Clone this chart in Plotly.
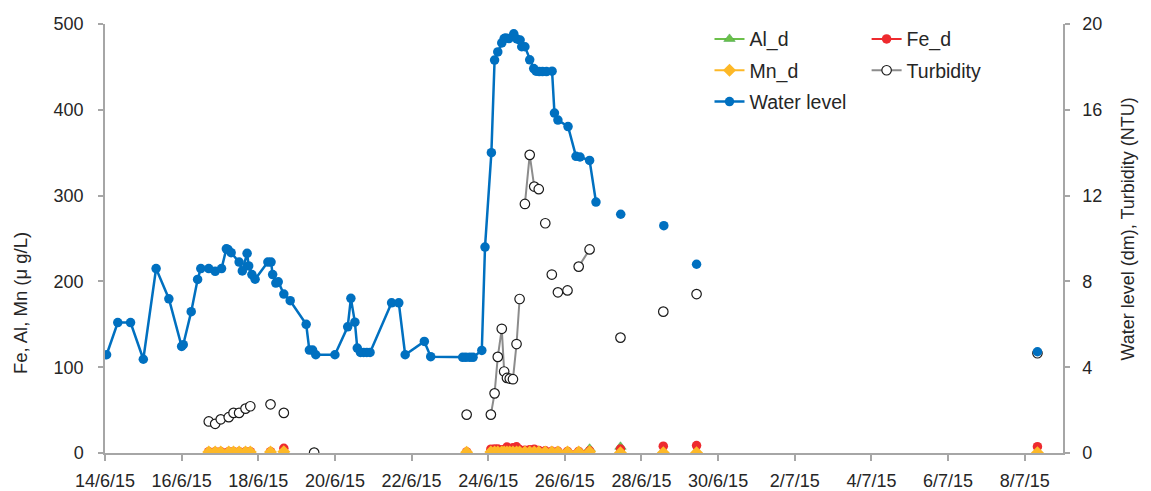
import plotly.graph_objects as go

# ---------------- data ----------------
# Water level (dm); consecutive rows with the same segment id are joined by a line
wl_dates = [
    "2015-06-14 01:00", "2015-06-14 08:00", "2015-06-14 16:00", "2015-06-15 00:00",
    "2015-06-15 08:00", "2015-06-15 16:00", "2015-06-16 00:00", "2015-06-16 01:00",
    "2015-06-16 06:00", "2015-06-16 10:00", "2015-06-16 12:00", "2015-06-16 17:00",
    "2015-06-16 21:00", "2015-06-17 01:00", "2015-06-17 04:00", "2015-06-17 05:00",
    "2015-06-17 07:00", "2015-06-17 12:00", "2015-06-17 14:00", "2015-06-17 17:00",
    "2015-06-17 18:00", "2015-06-17 20:00", "2015-06-17 22:00", "2015-06-18 06:00",
    "2015-06-18 08:00", "2015-06-18 09:00", "2015-06-18 11:00", "2015-06-18 12:30",
    "2015-06-18 16:00", "2015-06-18 20:00", "2015-06-19 06:00", "2015-06-19 08:00",
    "2015-06-19 10:00", "2015-06-19 12:00", "2015-06-20 00:00", "2015-06-20 08:00",
    "2015-06-20 10:00", "2015-06-20 12:30", "2015-06-20 14:00", "2015-06-20 16:00",
    "2015-06-20 18:00", "2015-06-20 20:00", "2015-06-20 22:00", "2015-06-21 11:30",
    "2015-06-21 16:00", "2015-06-21 20:00", "2015-06-22 08:00", "2015-06-22 12:00",
    "2015-06-23 08:00", "2015-06-23 10:00", "2015-06-23 12:30", "2015-06-23 14:30",
    "2015-06-23 20:00", "2015-06-23 22:00", "2015-06-24 02:00", "2015-06-24 04:00",
    "2015-06-24 06:00", "2015-06-24 08:30", "2015-06-24 10:00", "2015-06-24 11:00",
    "2015-06-24 13:00", "2015-06-24 16:00", "2015-06-24 18:00", "2015-06-24 20:00",
    "2015-06-24 21:00", "2015-06-24 23:00", "2015-06-25 02:00", "2015-06-25 04:30",
    "2015-06-25 06:00", "2015-06-25 08:00", "2015-06-25 10:00", "2015-06-25 12:30",
    "2015-06-25 16:00", "2015-06-25 17:30", "2015-06-25 19:40", "2015-06-26 02:00",
    "2015-06-26 07:00", "2015-06-26 09:30", "2015-06-26 15:30", "2015-06-26 19:30",
    "2015-06-27 11:00", "2015-06-28 14:00", "2015-06-29 10:30", "2015-07-08 08:00",
]
wl_values = [
    4.58, 6.08, 6.08, 4.37, 8.60, 7.19, 4.97, 5.05,
    6.59, 8.09, 8.60, 8.60, 8.47, 8.60, 9.52, 9.49,
    9.34, 8.90, 8.49, 9.31, 8.72, 8.32, 8.10, 8.90,
    8.90, 8.32, 7.92, 7.98, 7.41, 7.10, 6.00, 4.80,
    4.80, 4.58, 4.58, 5.88, 7.21, 6.10, 4.89, 4.69,
    4.69, 4.69, 4.69, 7.00, 7.00, 4.58, 5.20, 4.49,
    4.46, 4.46, 4.46, 4.46, 4.78, 9.60, 14.00, 18.32,
    18.70, 19.12, 19.32, 19.35, 19.32, 19.54, 19.30, 19.25,
    18.94, 18.94, 18.33, 17.92, 17.80, 17.78, 17.78, 17.78,
    17.80, 15.85, 15.52, 15.22, 13.83, 13.80, 13.64, 11.70,
    11.13, 10.60, 8.80, 4.72,
]
wl_segment = [1] * 80 + [2, 3, 4, 5]

# Sampling campaign: turbidity (NTU) and dissolved metals (ug/L)
sample_dates = [
    "2015-06-16 17:00", "2015-06-16 21:00", "2015-06-17 00:30", "2015-06-17 05:30",
    "2015-06-17 08:30", "2015-06-17 12:00", "2015-06-17 16:00", "2015-06-17 19:00",
    "2015-06-18 07:40", "2015-06-18 16:00", "2015-06-19 11:00", "2015-06-23 10:30",
    "2015-06-24 01:40", "2015-06-24 04:00", "2015-06-24 06:00", "2015-06-24 08:30",
    "2015-06-24 10:00", "2015-06-24 11:45", "2015-06-24 13:30", "2015-06-24 15:30",
    "2015-06-24 17:45", "2015-06-24 19:40", "2015-06-24 23:00", "2015-06-25 02:00",
    "2015-06-25 04:50", "2015-06-25 07:40", "2015-06-25 11:45", "2015-06-25 15:50",
    "2015-06-25 19:40", "2015-06-26 01:40", "2015-06-26 08:40", "2015-06-26 15:30",
    "2015-06-27 10:50", "2015-06-28 13:40", "2015-06-29 10:30", "2015-07-08 08:00",
]
turbidity = [
    1.47, 1.36, 1.57, 1.67, 1.87, 1.87, 2.07, 2.18,
    2.27, 1.87, 0.02, 1.79,
    1.79, 2.78, 4.48, 5.79, 3.80, 3.50, 3.47, 3.44,
    5.08, 7.18, 11.61, 13.90, 12.42, 12.30, 10.71, 8.32,
    7.49, 7.58, 8.69, 9.49, 5.38, 6.59, 7.41, 4.65,
]
turb_segment = [
    1, 2, 3, 4, 5, 6, 7, 8,
    9, 10, 11, 12,
    13, 13, 13, 13, 13, 13, 13, 13,
    13, 13, 14, 14, 14, 14, 15, 16,
    17, 18, 19, 19, 20, 21, 22, 23,
]
al_d = [
    0.5, 0.5, 0.5, 0.5, 0.5, 0.5, 0.5, 0.5,
    0.5, 0.5, 0.3, 0.5,
    0.5, 0.5, 0.5, 0.5, 0.5, 0.5, 0.5, 0.5,
    0.5, 0.5, 0.5, 0.5, 0.5, 0.5, 0.5, 0.5,
    0.5, 0.5, 0.5, 5.0, 7.3, 2.0, 2.0, 1.0,
]
fe_d = [
    1.6, 1.6, 1.6, 1.6, 1.6, 1.6, 1.6, 1.6,
    1.6, 5.5, None, 1.2,
    4.5, 4.8, 4.6, 3.8, 3.5, 7.0, 3.6, 6.2,
    7.2, 4.0, 3.2, 3.8, 4.5, 3.0, 2.5, 2.0,
    2.0, 1.8, 1.8, 2.5, 4.6, 8.0, 8.6, 7.4,
]
mn_d = [
    1.2, 1.2, 1.2, 1.2, 1.2, 1.2, 1.2, 1.2,
    1.2, 1.5, None, 1.0,
    1.2, 1.2, 1.2, 1.2, 1.2, 1.2, 1.2, 1.2,
    1.2, 1.2, 1.2, 1.2, 1.2, 1.2, 1.2, 1.2,
    1.2, 1.2, 1.2, 1.5, 0.3, 0.3, 0.3, 0.3,
]
metal_segment = [
    1, 1, 1, 1, 1, 1, 1, 1,
    2, 3, 4, 5,
    6, 6, 6, 6, 6, 6, 6, 6,
    6, 6, 6, 6, 6, 6, 6, 6,
    6, 6, 6, 6, 7, 8, 9, 10,
]

x_range = ["2015-06-14", "2015-07-09"]
y1_ticks = [0, 100, 200, 300, 400, 500]
y2_ticks = [0, 4, 8, 12, 16, 20]


def split_segments(xs, ys, segs):
    """Insert a gap (None) wherever the segment id changes."""
    ox, oy = [], []
    prev = None
    for x, y, s in zip(xs, ys, segs):
        if prev is not None and s != prev:
            ox.append(x)
            oy.append(None)
        ox.append(x)
        oy.append(y)
        prev = s
    return ox, oy


FONT = "Liberation Sans, Arial, sans-serif"
AXIS_COL = "#a6a6a6"
TEXT_COL = "#262626"

fig = go.Figure()

ax, ay = split_segments(sample_dates, al_d, metal_segment)
fig.add_trace(go.Scatter(
    x=ax, y=ay, name="Al_d", mode="lines+markers", legend="legend", legendgroup="al",
    line=dict(color="#6cc04a", width=2),
    marker=dict(symbol="triangle-up", size=10, color="#6cc04a",
                line=dict(color="#3aa048", width=0.5)),
    connectgaps=False, yaxis="y",
))
fx, fy = split_segments(sample_dates, fe_d, metal_segment)
fig.add_trace(go.Scatter(
    x=fx, y=fy, name="Fe_d", mode="lines+markers", legend="legend2", legendgroup="fe",
    line=dict(color="#ee2a2e", width=2),
    marker=dict(symbol="circle", size=9.5, color="#ee2a2e"),
    connectgaps=False, yaxis="y",
))
mx, my = split_segments(sample_dates, mn_d, metal_segment)
fig.add_trace(go.Scatter(
    x=mx, y=my, name="Mn_d", mode="lines+markers", legend="legend", legendgroup="mn",
    line=dict(color="#fdb827", width=2),
    marker=dict(symbol="diamond", size=10, color="#fdb827"),
    connectgaps=False, yaxis="y",
))
tx, ty = split_segments(sample_dates, turbidity, turb_segment)
fig.add_trace(go.Scatter(
    x=tx, y=ty, name="Turbidity", mode="lines+markers", legend="legend2", legendgroup="tu",
    line=dict(color="#8c8c8c", width=2),
    marker=dict(symbol="circle", size=9.5, color="white",
                line=dict(color="#1a1a1a", width=1.2)),
    connectgaps=False, yaxis="y2",
))
wx, wy = split_segments(wl_dates, wl_values, wl_segment)
fig.add_trace(go.Scatter(
    x=wx, y=wy, name="Water level", mode="lines+markers", legend="legend", legendgroup="wl",
    line=dict(color="#0070c0", width=2.5),
    marker=dict(symbol="circle", size=9.5, color="#0070c0"),
    connectgaps=False, yaxis="y2",
))

legend_common = dict(
    font=dict(family=FONT, size=19.5, color=TEXT_COL),
    bgcolor="rgba(0,0,0,0)", orientation="v",
    xanchor="left", yanchor="top", tracegroupgap=3, itemwidth=30,
)

axis_common = dict(
    showgrid=False, zeroline=False, automargin=False,
    showline=True, linecolor=AXIS_COL, linewidth=1.5,
    ticks="outside", tickcolor=AXIS_COL, tickwidth=1.5,
    tickfont=dict(family=FONT, size=18, color=TEXT_COL),
)

# the page body adds an 8 px offset, so the figure is 8 px smaller in each direction
fig.update_layout(
    width=1143, height=483,
    margin=dict(l=97, r=88, t=13, b=38),
    paper_bgcolor="white", plot_bgcolor="white",
    font=dict(family=FONT, size=18, color=TEXT_COL),
    showlegend=True,
    legend=dict(x=0.631, y=1.01, **legend_common),
    legend2=dict(x=0.795, y=1.01, **legend_common),
    xaxis=dict(
        type="date", range=x_range,
        tick0="2015-06-14", dtick=2 * 86400000, tickformat="%-d/%-m/%y",
        ticklen=6, ticklabelstandoff=5, **axis_common,
    ),
    yaxis=dict(
        range=[0, 500], tickvals=y1_ticks,
        ticklen=5, ticklabelstandoff=11, **axis_common,
    ),
    yaxis2=dict(
        range=[0, 20], tickvals=y2_ticks, overlaying="y", side="right",
        ticklen=5, ticklabelstandoff=9, **axis_common,
    ),
    annotations=[
        dict(text="Fe, Al, Mn (\u03bc g/L)", textangle=-90,
             xref="paper", yref="paper", x=-0.0887, y=0.3495,
             xanchor="center", yanchor="middle", showarrow=False,
             font=dict(family=FONT, size=18.5, color=TEXT_COL)),
        dict(text="Water level (dm), Turbidity (NTU)", textangle=-90,
             xref="paper", yref="paper", x=1.0678, y=0.523,
             xanchor="center", yanchor="middle", showarrow=False,
             font=dict(family=FONT, size=18, color=TEXT_COL)),
    ],
)

fig.write_html("out.html")
